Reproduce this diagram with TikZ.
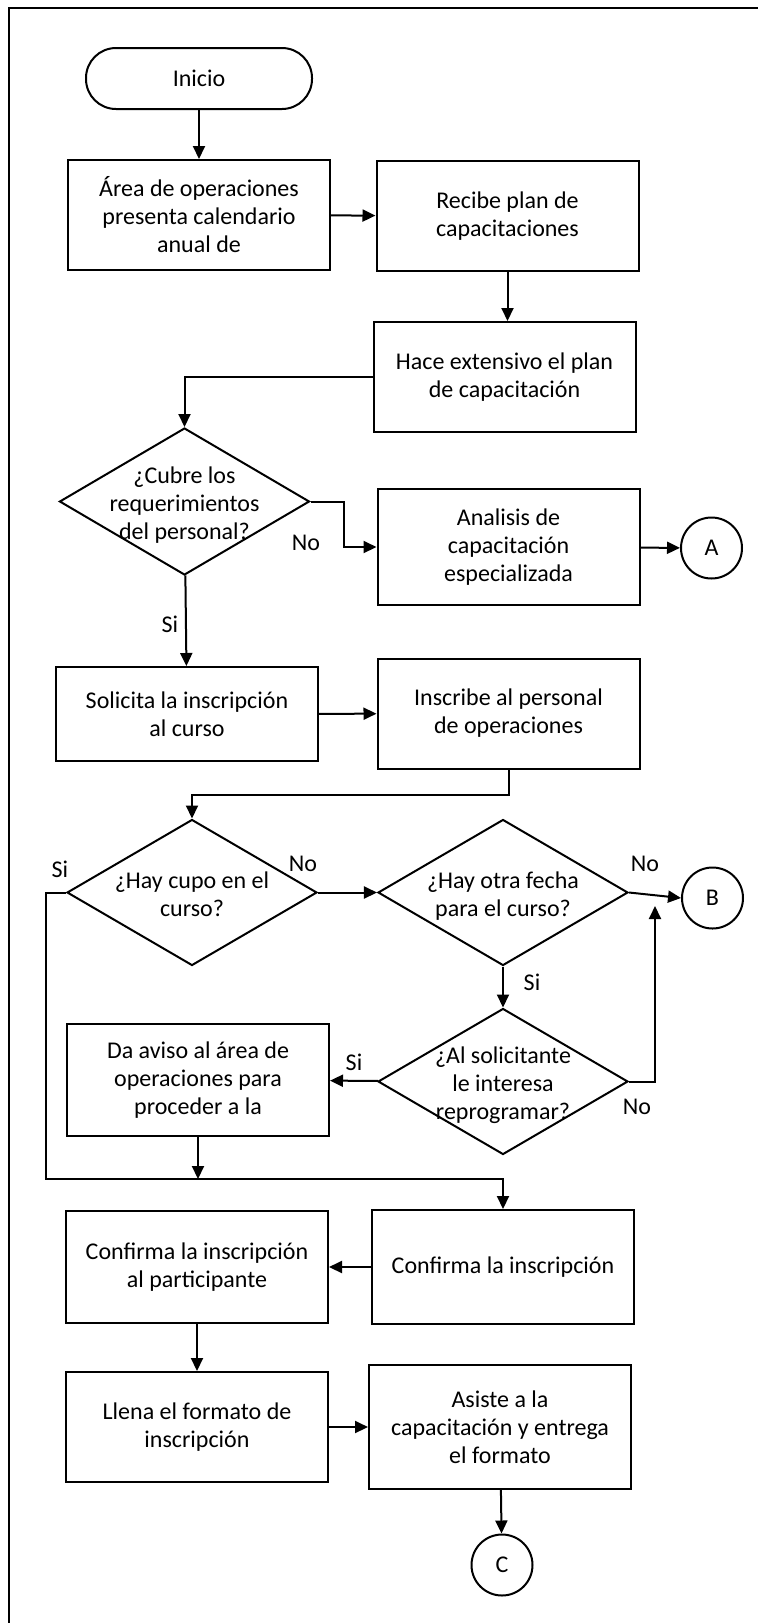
\documentclass[tikz,border=0pt]{standalone}
\usepackage{fontspec}
\setmainfont{Carlito}
\usepackage{tikz}
\usetikzlibrary{arrows.meta}
\usetikzlibrary{shapes.geometric}
\newcommand{\pregunta}[1]{\smash{\makebox[0pt]{\raisebox{-5pt}{\begin{tabular}{@{}c@{}}#1\end{tabular}}}}}
\tikzset{
proceso/.style = {rectangle, draw = black, fill = white, align = center, minimum width = 131pt, minimum height = 55pt, inner sep = 0pt},
decision/.style = {diamond, draw = black, fill = white, minimum width = 125pt, minimum height = 73pt, inner sep = 0pt},
terminal/.style = {rectangle, draw = black, fill = white, minimum width = 113pt, minimum height = 30.5pt, rounded corners = 15pt},
conector/.style = {circle, draw = black, fill = white, minimum size = 30.5pt, inner sep = 0pt},
etiqueta/.style = {inner sep = 0pt},
flecha/.style = {-{Triangle[length = 6.5pt, width = 6pt]}},
}
\begin{document}
\begin{tikzpicture}[x = 0.5pt, y = -0.5pt, line width = 1pt, font = \fontsize{12}{14}\selectfont]
    \useasboundingbox (0, 0) rectangle (758, 1623);
    \draw (758, 8) -- (9, 8) -- (9, 1623);
    \node[terminal] (inicio) at (199, 78.5) {Inicio};
    \node[proceso] (area) at (199, 215) {Área de operaciones\\presenta calendario\\anual de};
    \node[proceso] (recibe) at (507.5, 216) {Recibe plan de\\capacitaciones};
    \node[proceso] (hace) at (504.5, 377) {Hace extensivo el plan\\de capacitación};
    \node[decision, minimum height = 73.5pt] (cubre) at (184.5, 501.5) {\pregunta{¿Cubre los\\requerimientos\\del personal?}};
    \node[proceso, minimum height = 58pt] (analisis) at (508.5, 547) {Analisis de\\capacitación\\especializada};
    \node[conector] (conA) at (711.5, 548) {A};
    \node[proceso, minimum height = 47pt] (solicita) at (187, 714) {Solicita la inscripción\\al curso};
    \node[proceso] (inscribe) at (508.5, 713.5) {Inscribe al personal\\de operaciones};
    \node[decision] (cupo) at (192, 892.5) {\pregunta{¿Hay cupo en el\\curso?}};
    \node[decision] (otra) at (503, 892.5) {\pregunta{¿Hay otra fecha\\para el curso?}};
    \node[conector] (conB) at (712.5, 898) {B};
    \node[decision] (reprog) at (503, 1081.5) {\pregunta{¿Al solicitante\\le interesa\\reprogramar?}};
    \node[proceso, minimum height = 56pt] (aviso) at (198, 1080) {Da aviso al área de\\operaciones para\\proceder a la};
    \node[proceso, minimum height = 57pt] (confirma) at (503, 1267) {Confirma la inscripción};
    \node[proceso, minimum height = 56pt] (confpart) at (197, 1267) {Confirma la inscripción\\al participante};
    \node[proceso] (llena) at (197, 1427) {Llena el formato de\\inscripción};
    \node[proceso, minimum height = 62pt] (asiste) at (500, 1427) {Asiste a la\\capacitación y entrega\\el formato};
    \node[conector] (conC) at (502, 1565) {C};
    \coordinate (bajada) at (46, 1179);
    \coordinate (subida) at (655, 906);
    \node[etiqueta] (no1) at (306, 543) {No};
    \node[etiqueta] (si1) at (170, 624) {Si};
    \node[etiqueta] (si2) at (60, 869) {Si};
    \node[etiqueta] (no2) at (303, 864) {No};
    \node[etiqueta] (no3) at (645, 864) {No};
    \node[etiqueta] (si3) at (532, 982) {Si};
    \node[etiqueta] (si4) at (354, 1062) {Si};
    \node[etiqueta] (no4) at (637, 1107) {No};
    \draw[flecha] (inicio) -- (area);
    \draw[flecha] (area) -- (recibe);
    \draw[flecha] (recibe) -- (recibe |- hace.north);
    \draw[flecha] (hace.west) -| (cubre.north);
    \draw[flecha] (cubre.east) -- ++(33, 0) |- (analisis.west);
    \draw[flecha] (analisis) -- (conA);
    \draw[flecha] (cubre) -- (solicita);
    \draw[flecha] (solicita) -- (inscribe);
    \draw[flecha] (inscribe.south) -- ++(0, 25) -| (cupo.north);
    \draw[flecha] (cupo) -- (otra);
    \draw[flecha] (otra.east) -- (conB.west);
    \draw[flecha] (otra) -- (reprog);
    \draw[flecha] (reprog.east) -| (subida);
    \draw[flecha] (reprog) -- (aviso);
    \draw[flecha] (cupo.west) -| (bajada) -| (confirma.north);
    \draw[flecha] (aviso) -- (aviso |- bajada);
    \draw[flecha] (confirma) -- (confpart);
    \draw[flecha] (confpart) -- (llena);
    \draw[flecha] (llena) -- (asiste);
    \draw[flecha] (asiste) -- (conC);
\end{tikzpicture}
\end{document}
